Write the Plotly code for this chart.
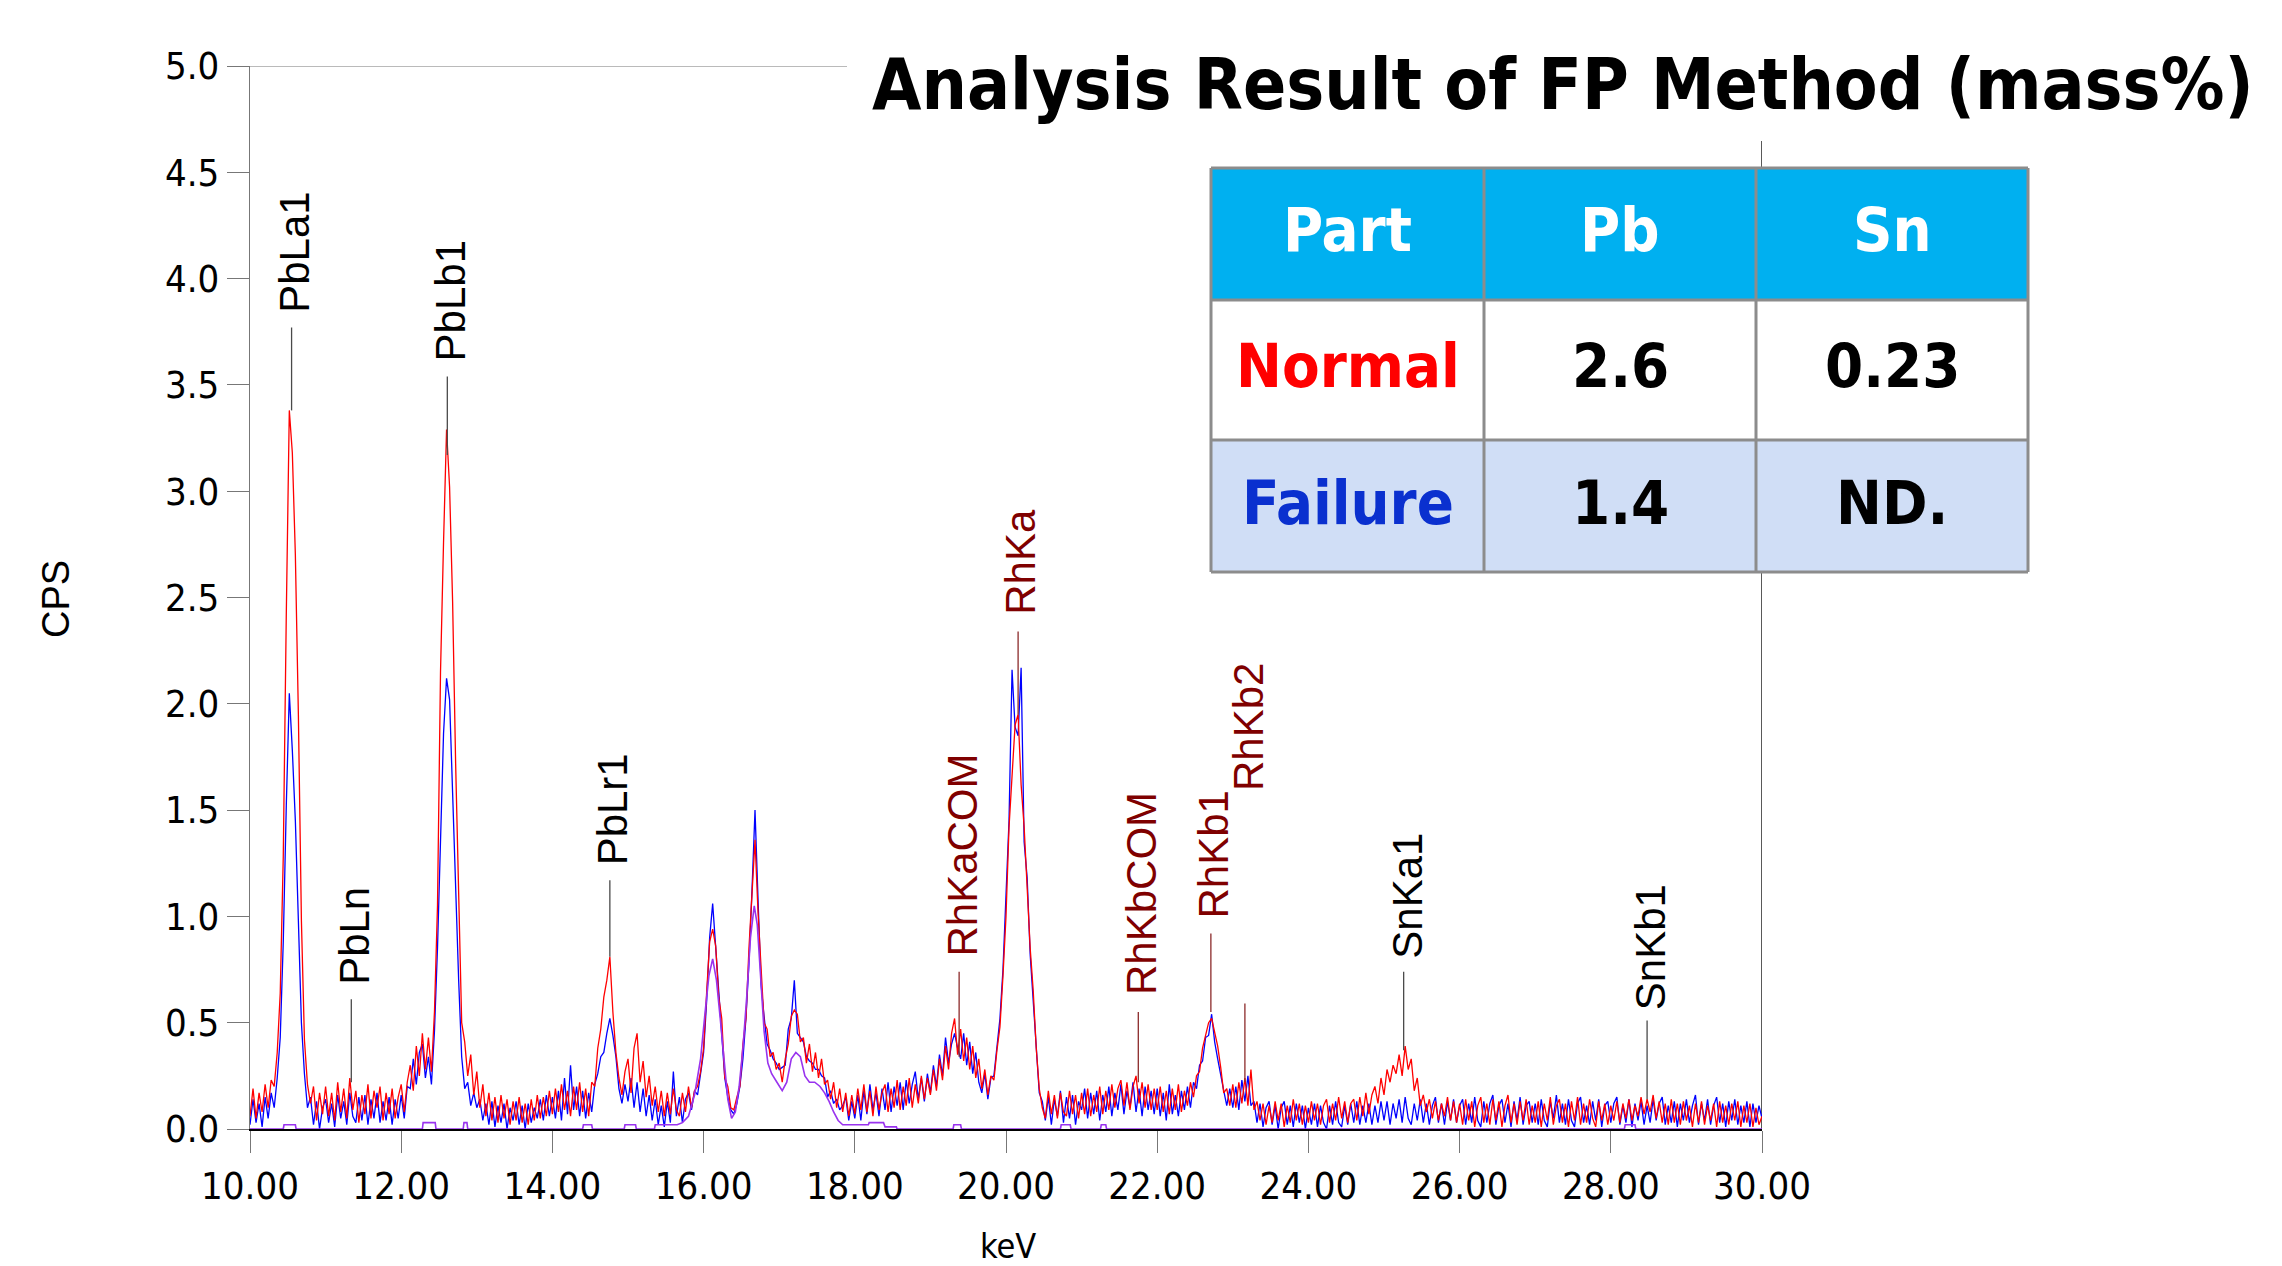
import plotly.graph_objects as go

# ---------------- data ----------------
row_start_kev = 10.0          # first channel of each row is row_start_kev + row index (1 keV per row)
channel_step_kev = 0.04

normal_rows = [
    [0.06, 0.19, 0.05, 0.17, 0.08, 0.21, 0.10, 0.23, 0.20, 0.36, 0.64, 1.28, 2.42, 3.38, 3.18, 2.70, 1.95, 0.98, 0.42, 0.21, 0.12, 0.20, 0.04, 0.17, 0.07],
    [0.20, 0.06, 0.17, 0.04, 0.22, 0.08, 0.19, 0.05, 0.24, 0.09, 0.18, 0.03, 0.16, 0.07, 0.21, 0.05, 0.18, 0.10, 0.20, 0.04, 0.17, 0.07, 0.19, 0.05, 0.15],
    [0.21, 0.08, 0.22, 0.30, 0.18, 0.39, 0.25, 0.45, 0.28, 0.43, 0.27, 0.55, 1.05, 2.15, 2.76, 3.29, 3.02, 2.48, 1.72, 1.08, 0.50, 0.41, 0.25, 0.35, 0.16],
    [0.27, 0.10, 0.21, 0.06, 0.17, 0.04, 0.15, 0.03, 0.16, 0.05, 0.14, 0.02, 0.13, 0.04, 0.15, 0.03, 0.12, 0.02, 0.14, 0.04, 0.16, 0.05, 0.15, 0.06, 0.18],
    [0.07, 0.19, 0.08, 0.21, 0.09, 0.18, 0.06, 0.20, 0.09, 0.22, 0.08, 0.19, 0.06, 0.22, 0.20, 0.38, 0.47, 0.62, 0.70, 0.81, 0.55, 0.36, 0.24, 0.16, 0.27],
    [0.33, 0.17, 0.38, 0.45, 0.22, 0.32, 0.15, 0.25, 0.11, 0.20, 0.08, 0.18, 0.06, 0.17, 0.07, 0.19, 0.09, 0.06, 0.17, 0.08, 0.20, 0.10, 0.18, 0.20, 0.27],
    [0.38, 0.64, 0.88, 0.94, 0.86, 0.62, 0.52, 0.24, 0.20, 0.10, 0.09, 0.15, 0.20, 0.40, 0.52, 0.85, 1.08, 1.36, 1.02, 0.75, 0.50, 0.47, 0.34, 0.36, 0.28],
    [0.31, 0.22, 0.33, 0.40, 0.53, 0.56, 0.54, 0.41, 0.43, 0.31, 0.40, 0.27, 0.36, 0.24, 0.33, 0.21, 0.23, 0.14, 0.22, 0.10, 0.19, 0.08, 0.17, 0.06, 0.16],
    [0.07, 0.19, 0.09, 0.21, 0.08, 0.18, 0.06, 0.20, 0.09, 0.17, 0.21, 0.08, 0.19, 0.10, 0.23, 0.09, 0.20, 0.11, 0.24, 0.10, 0.21, 0.12, 0.25, 0.14, 0.24],
    [0.16, 0.28, 0.18, 0.33, 0.23, 0.39, 0.28, 0.45, 0.52, 0.35, 0.47, 0.32, 0.43, 0.28, 0.39, 0.24, 0.33, 0.19, 0.28, 0.16, 0.25, 0.23, 0.37, 0.48, 0.72],
    [1.00, 1.42, 1.68, 1.90, 1.95, 1.62, 1.42, 1.15, 0.85, 0.65, 0.38, 0.19, 0.10, 0.05, 0.18, 0.07, 0.16, 0.05, 0.17, 0.08, 0.06, 0.18, 0.07, 0.16, 0.05],
    [0.17, 0.07, 0.19, 0.06, 0.16, 0.08, 0.20, 0.07, 0.18, 0.09, 0.21, 0.10, 0.19, 0.23, 0.11, 0.22, 0.09, 0.20, 0.25, 0.12, 0.22, 0.10, 0.21, 0.09, 0.19],
    [0.09, 0.20, 0.08, 0.18, 0.07, 0.19, 0.09, 0.21, 0.08, 0.18, 0.11, 0.22, 0.15, 0.25, 0.27, 0.38, 0.44, 0.50, 0.52, 0.46, 0.39, 0.29, 0.17, 0.19, 0.11],
    [0.21, 0.10, 0.22, 0.12, 0.24, 0.11, 0.28, 0.09, 0.13, 0.04, 0.12, 0.02, 0.11, 0.03, 0.13, 0.04, 0.12, 0.01, 0.11, 0.03, 0.14, 0.04, 0.12, 0.02, 0.11],
    [0.03, 0.13, 0.04, 0.12, 0.02, 0.11, 0.14, 0.03, 0.12, 0.04, 0.15, 0.05, 0.13, 0.03, 0.12, 0.14, 0.04, 0.15, 0.06, 0.17, 0.07, 0.16, 0.20, 0.12, 0.24],
    [0.16, 0.28, 0.22, 0.30, 0.26, 0.35, 0.25, 0.39, 0.28, 0.33, 0.18, 0.24, 0.11, 0.16, 0.08, 0.14, 0.05, 0.13, 0.04, 0.12, 0.06, 0.15, 0.04, 0.13, 0.03],
    [0.12, 0.02, 0.14, 0.04, 0.13, 0.01, 0.11, 0.15, 0.03, 0.12, 0.02, 0.14, 0.04, 0.13, 0.01, 0.11, 0.16, 0.03, 0.12, 0.02, 0.13, 0.04, 0.14, 0.02, 0.11],
    [0.03, 0.13, 0.01, 0.12, 0.04, 0.15, 0.02, 0.11, 0.14, 0.03, 0.12, 0.01, 0.13, 0.04, 0.15, 0.02, 0.12, 0.03, 0.14, 0.05, 0.01, 0.13, 0.04, 0.12, 0.02],
    [0.11, 0.04, 0.13, 0.03, 0.12, 0.05, 0.14, 0.04, 0.11, 0.06, 0.15, 0.07, 0.14, 0.08, 0.16, 0.05, 0.13, 0.03, 0.12, 0.02, 0.14, 0.03, 0.12, 0.02, 0.13],
    [0.04, 0.11, 0.01, 0.12, 0.03, 0.13, 0.02, 0.11, 0.04, 0.12, 0.01, 0.13, 0.03, 0.11, 0.02, 0.12, 0.04, 0.13, 0.01, 0.11, 0.03, 0.12, 0.01, 0.10, 0.02],
    [0.06],
]

failure_rows = [
    [0.02, 0.14, 0.03, 0.12, 0.01, 0.15, 0.05, 0.17, 0.10, 0.24, 0.43, 0.88, 1.52, 2.05, 1.78, 1.45, 0.98, 0.50, 0.26, 0.10, 0.15, 0.02, 0.13, 0.00, 0.10],
    [0.14, 0.03, 0.12, 0.01, 0.16, 0.05, 0.13, 0.02, 0.17, 0.06, 0.03, 0.15, 0.04, 0.16, 0.02, 0.14, 0.05, 0.17, 0.03, 0.13, 0.04, 0.15, 0.02, 0.14, 0.05],
    [0.16, 0.05, 0.20, 0.19, 0.33, 0.21, 0.36, 0.40, 0.24, 0.34, 0.21, 0.46, 0.85, 1.42, 1.86, 2.12, 2.02, 1.58, 1.12, 0.70, 0.34, 0.19, 0.22, 0.11, 0.17],
    [0.10, 0.14, 0.04, 0.12, 0.02, 0.13, 0.01, 0.11, 0.03, 0.12, 0.00, 0.10, 0.04, 0.13, 0.02, 0.11, 0.00, 0.12, 0.03, 0.10, 0.05, 0.14, 0.04, 0.16, 0.06],
    [0.15, 0.05, 0.18, 0.04, 0.24, 0.07, 0.30, 0.09, 0.20, 0.06, 0.18, 0.05, 0.17, 0.08, 0.21, 0.26, 0.34, 0.36, 0.45, 0.52, 0.44, 0.34, 0.19, 0.12, 0.21],
    [0.13, 0.24, 0.10, 0.22, 0.08, 0.19, 0.06, 0.16, 0.04, 0.14, 0.02, 0.11, 0.01, 0.13, 0.03, 0.27, 0.06, 0.15, 0.03, 0.14, 0.17, 0.09, 0.18, 0.16, 0.25],
    [0.36, 0.60, 0.90, 1.06, 0.85, 0.62, 0.44, 0.24, 0.15, 0.09, 0.07, 0.12, 0.20, 0.33, 0.52, 0.78, 1.12, 1.50, 1.08, 0.68, 0.53, 0.40, 0.37, 0.33, 0.31],
    [0.28, 0.29, 0.30, 0.47, 0.52, 0.70, 0.45, 0.43, 0.41, 0.34, 0.32, 0.31, 0.28, 0.28, 0.25, 0.24, 0.15, 0.18, 0.12, 0.14, 0.09, 0.11, 0.15, 0.04, 0.13],
    [0.05, 0.16, 0.04, 0.18, 0.07, 0.21, 0.09, 0.17, 0.06, 0.19, 0.09, 0.22, 0.08, 0.20, 0.11, 0.22, 0.09, 0.23, 0.12, 0.21, 0.27, 0.14, 0.24, 0.13, 0.26],
    [0.17, 0.30, 0.20, 0.35, 0.25, 0.43, 0.31, 0.40, 0.45, 0.38, 0.33, 0.45, 0.30, 0.41, 0.26, 0.36, 0.22, 0.17, 0.26, 0.14, 0.24, 0.25, 0.40, 0.52, 0.75],
    [1.08, 1.45, 2.16, 1.89, 1.85, 2.17, 1.35, 1.18, 0.82, 0.60, 0.35, 0.17, 0.13, 0.04, 0.15, 0.02, 0.14, 0.06, 0.18, 0.03, 0.15, 0.05, 0.16, 0.02, 0.13],
    [0.09, 0.19, 0.05, 0.17, 0.07, 0.18, 0.04, 0.16, 0.08, 0.20, 0.06, 0.17, 0.09, 0.21, 0.07, 0.18, 0.10, 0.22, 0.08, 0.19, 0.06, 0.20, 0.09, 0.18, 0.07],
    [0.19, 0.06, 0.17, 0.04, 0.21, 0.07, 0.16, 0.06, 0.18, 0.09, 0.20, 0.10, 0.22, 0.19, 0.30, 0.32, 0.43, 0.44, 0.54, 0.41, 0.33, 0.25, 0.18, 0.11, 0.19],
    [0.10, 0.20, 0.09, 0.23, 0.13, 0.25, 0.11, 0.13, 0.03, 0.12, 0.01, 0.10, 0.13, 0.02, 0.11, 0.00, 0.10, 0.13, 0.02, 0.11, 0.01, 0.12, 0.03, 0.11, 0.00],
    [0.10, 0.02, 0.12, 0.01, 0.11, 0.03, 0.00, 0.11, 0.02, 0.13, 0.03, 0.01, 0.11, 0.02, 0.12, 0.03, 0.13, 0.02, 0.11, 0.03, 0.12, 0.02, 0.11, 0.03, 0.13],
    [0.04, 0.13, 0.02, 0.12, 0.05, 0.14, 0.03, 0.15, 0.05, 0.02, 0.12, 0.04, 0.14, 0.03, 0.12, 0.02, 0.11, 0.15, 0.03, 0.12, 0.02, 0.13, 0.04, 0.14, 0.03],
    [0.11, 0.14, 0.02, 0.12, 0.03, 0.15, 0.04, 0.01, 0.13, 0.03, 0.12, 0.16, 0.02, 0.11, 0.14, 0.03, 0.12, 0.01, 0.13, 0.04, 0.15, 0.02, 0.11, 0.13, 0.03],
    [0.12, 0.02, 0.14, 0.04, 0.01, 0.13, 0.05, 0.16, 0.03, 0.12, 0.02, 0.14, 0.04, 0.01, 0.12, 0.15, 0.03, 0.11, 0.02, 0.13, 0.04, 0.14, 0.01, 0.11, 0.13],
    [0.03, 0.12, 0.15, 0.02, 0.11, 0.03, 0.14, 0.01, 0.12, 0.04, 0.13, 0.02, 0.11, 0.03, 0.14, 0.04, 0.12, 0.15, 0.02, 0.11, 0.03, 0.13, 0.01, 0.12, 0.04],
    [0.14, 0.03, 0.11, 0.16, 0.02, 0.12, 0.04, 0.14, 0.02, 0.11, 0.15, 0.03, 0.12, 0.01, 0.13, 0.04, 0.14, 0.02, 0.11, 0.03, 0.13, 0.01, 0.12, 0.03, 0.11],
    [0.05],
]

fit_energy = [10.00, 10.44, 10.45, 10.60, 10.61, 12.28, 12.29, 12.45, 12.46, 12.82, 12.83, 12.87, 12.88,
              14.40, 14.41, 14.52, 14.53, 14.95, 14.96, 15.10, 15.11, 15.35, 15.36, 15.65, 15.72, 15.80,
              15.88, 15.96, 16.02, 16.07, 16.12, 16.17, 16.22, 16.27, 16.32, 16.37, 16.42, 16.47, 16.52,
              16.57, 16.62, 16.67, 16.71, 16.75, 16.80, 16.85, 16.90, 16.97, 17.04, 17.10, 17.16, 17.22,
              17.28, 17.34, 17.40, 17.47, 17.54, 17.60, 17.66, 17.72, 17.78, 17.84, 18.18, 18.19, 18.38,
              18.40, 18.55, 18.56, 19.30, 19.31, 19.40, 19.41, 20.72, 20.73, 20.85, 20.86, 21.25, 21.26,
              21.32, 21.33, 28.18, 28.19, 28.32, 28.33, 30.00]
fit_cps = [0, 0, 0.02, 0.02, 0, 0, 0.03, 0.03, 0, 0, 0.03, 0.03, 0,
           0, 0.02, 0.02, 0, 0, 0.02, 0.02, 0, 0, 0.02, 0.02, 0.03, 0.06,
           0.16, 0.33, 0.55, 0.72, 0.80, 0.70, 0.52, 0.33, 0.14, 0.05, 0.08, 0.20, 0.38,
           0.62, 0.90, 1.05, 0.96, 0.74, 0.46, 0.31, 0.26, 0.22, 0.18, 0.22, 0.33, 0.36,
           0.34, 0.25, 0.22, 0.22, 0.20, 0.17, 0.13, 0.08, 0.04, 0.02, 0.02, 0.03, 0.03,
           0.01, 0.01, 0, 0, 0.02, 0.02, 0, 0, 0.02, 0.02, 0, 0, 0.02,
           0.02, 0, 0, 0.02, 0.02, 0, 0]

peak_names = ["PbLa1", "PbLn", "PbLb1", "PbLr1", "RhKaCOM", "RhKa", "RhKbCOM", "RhKb1", "RhKb2", "SnKa1", "SnKb1"]
peak_element = ["Pb", "Pb", "Pb", "Pb", "Rh", "Rh", "Rh", "Rh", "Rh", "Sn", "Sn"]
peak_energy = [10.55, 11.34, 12.61, 14.76, 19.38, 20.16, 21.75, 22.71, 23.16, 25.26, 28.48]
peak_line_top = [3.77, 0.61, 3.54, 1.17, 0.74, 2.34, 0.55, 0.92, 0.59, 0.74, 0.51]
peak_line_bottom = [3.38, 0.22, 3.17, 0.81, 0.34, 1.95, 0.22, 0.55, 0.22, 0.37, 0.14]
peak_label_base = [3.83, 0.67, 3.60, 1.23, 0.80, 2.41, 0.62, 0.98, 1.58, 0.79, 0.55]

x_tick_values = [10, 12, 14, 16, 18, 20, 22, 24, 26, 28, 30]
y_tick_values = [0.0, 0.5, 1.0, 1.5, 2.0, 2.5, 3.0, 3.5, 4.0, 4.5, 5.0]

table_header = ["Part", "Pb", "Sn"]
table_row_names = ["Normal", "Failure"]
table_pb = ["2.6", "1.4"]
table_sn = ["0.23", "ND."]

title_text = "Analysis Result of FP Method (mass%)"

# ---------------- styling ----------------
W, H = 2282, 1266
PL, PR, PT, PB_ = 242, 1754, 58, 1121   # plot area in pixels
NARROW = "Liberation Sans Narrow, Arial Narrow, DejaVu Sans Condensed, sans-serif"
ARIAL = "Liberation Sans, Arial, sans-serif"


def px(xp):
    return (xp - PL) / (PR - PL)


def py(yp):
    return (PB_ - yp) / (PB_ - PT)


def flatten(rows):
    xs, ys = [], []
    for k, row in enumerate(rows):
        for j, v in enumerate(row):
            xs.append(round(row_start_kev + k + j * channel_step_kev, 2))
            ys.append(v)
    return xs, ys


xn, yn = flatten(normal_rows)
xf, yf = flatten(failure_rows)

fig = go.Figure()
fig.add_trace(go.Scatter(x=xf, y=yf, mode="lines", line=dict(color="#0000FF", width=1.3),
                         name="Failure", hoverinfo="skip"))
fig.add_trace(go.Scatter(x=xn, y=yn, mode="lines", line=dict(color="#FF0000", width=1.3),
                         name="Normal", hoverinfo="skip"))
fig.add_trace(go.Scatter(x=fit_energy, y=fit_cps, mode="lines", line=dict(color="#9933EE", width=1.6),
                         name="Fit", hoverinfo="skip"))

# peak marker lines
for elem_group, col in (("Pb", "#4A4A4A"), ("Sn", "#4A4A4A"), ("Rh", "#8B2A2A")):
    lx, ly = [], []
    for e, el, t, b in zip(peak_energy, peak_element, peak_line_top, peak_line_bottom):
        if el == elem_group:
            lx += [e, e, None]
            ly += [b, t, None]
    fig.add_trace(go.Scatter(x=lx, y=ly, mode="lines", line=dict(color=col, width=1.3),
                             hoverinfo="skip", showlegend=False))

annotations = []
for name, el, e, base in zip(peak_names, peak_element, peak_energy, peak_label_base):
    annotations.append(dict(
        x=e, y=base, xref="x", yref="y", text=name, showarrow=False, textangle=-90,
        xanchor="center", yanchor="bottom", xshift=3,
        font=dict(family=ARIAL, size=42, color="#7F0000" if el == "Rh" else "#000000")))

# axis titles
annotations.append(dict(x=px(48), y=py(591), xref="paper", yref="paper", text="CPS", showarrow=False,
                        textangle=-90, xanchor="center", yanchor="middle",
                        font=dict(family=ARIAL, size=38, color="#000000")))
annotations.append(dict(x=px(1000), y=py(1238), xref="paper", yref="paper", text="keV", showarrow=False,
                        xanchor="center", yanchor="middle",
                        font=dict(family=NARROW, size=34, color="#000000")))

# title
annotations.append(dict(x=px(1555), y=py(76), xref="paper", yref="paper", text="<b>" + title_text + "</b>",
                        showarrow=False, xanchor="center", yanchor="middle",
                        font=dict(family=NARROW, size=71, color="#000000")))

shapes = []
# frame: top (grey) and right (black) edges
shapes.append(dict(type="line", xref="x", yref="y", x0=10, x1=30, y0=5, y1=5,
                   line=dict(color="#777777", width=1.2), layer="below"))
shapes.append(dict(type="line", xref="x", yref="y", x0=30, x1=30, y0=0, y1=5,
                   line=dict(color="#222222", width=1.5), layer="below"))
# white box behind the title hides the frame's top-right corner
shapes.append(dict(type="rect", xref="paper", yref="paper", x0=px(839), x1=px(W), y0=py(0), y1=py(133),
                   fillcolor="#FFFFFF", line=dict(width=0), layer="above"))
# faint cream strip at the right edge
shapes.append(dict(type="rect", xref="paper", yref="paper", x0=px(2270), x1=px(W), y0=py(133), y1=py(H),
                   fillcolor="#FDF7EC", line=dict(width=0), layer="above"))

# results table
col_edges = [1203, 1476, 1748, 2020]
row_edges = [160, 292, 432, 564]
row_fills = ["#00B0F0", "#FFFFFF", "#D0DEF6"]
for r in range(3):
    shapes.append(dict(type="rect", xref="paper", yref="paper",
                       x0=px(col_edges[0]), x1=px(col_edges[-1]),
                       y0=py(row_edges[r + 1]), y1=py(row_edges[r]),
                       fillcolor=row_fills[r], line=dict(width=0), layer="above"))
grid_col = "#8C8C8C"
for yy in row_edges:
    shapes.append(dict(type="line", xref="paper", yref="paper", x0=px(col_edges[0]), x1=px(col_edges[-1]),
                       y0=py(yy), y1=py(yy), line=dict(color=grid_col, width=3), layer="above"))
for xx in col_edges:
    shapes.append(dict(type="line", xref="paper", yref="paper", x0=px(xx), x1=px(xx),
                       y0=py(row_edges[0]), y1=py(row_edges[-1]), line=dict(color=grid_col, width=3),
                       layer="above"))

cell_text = [table_header,
             [table_row_names[0], table_pb[0], table_sn[0]],
             [table_row_names[1], table_pb[1], table_sn[1]]]
cell_colors = [["#FFFFFF", "#FFFFFF", "#FFFFFF"],
               ["#FF0000", "#000000", "#000000"],
               ["#0A30CF", "#000000", "#000000"]]
for r in range(3):
    cy = (row_edges[r] + row_edges[r + 1]) / 2 - 4
    for c in range(3):
        cx = (col_edges[c] + col_edges[c + 1]) / 2
        annotations.append(dict(x=px(cx), y=py(cy), xref="paper", yref="paper",
                                text="<b>" + cell_text[r][c] + "</b>", showarrow=False,
                                xanchor="center", yanchor="middle",
                                font=dict(family=NARROW, size=61, color=cell_colors[r][c])))

fig.update_layout(
    width=W, height=H, autosize=False,
    margin=dict(l=PL, r=W - PR, t=PT, b=H - PB_, pad=0, autoexpand=False),
    paper_bgcolor="#FFFFFF", plot_bgcolor="#FFFFFF",
    showlegend=False,
    shapes=shapes, annotations=annotations,
    xaxis=dict(range=[10, 30], tickvals=x_tick_values, tickformat=".2f",
               ticks="outside", ticklen=22, tickcolor="#777777", tickwidth=1.3,
               showline=True, linecolor="#000000", linewidth=2, showgrid=False, zeroline=False,
               tickfont=dict(family=NARROW, size=38, color="#000000")),
    yaxis=dict(range=[0, 5], tickvals=y_tick_values, tickformat=".1f",
               ticks="outside", ticklen=22, tickcolor="#777777", tickwidth=1.3,
               showline=True, linecolor="#777777", linewidth=1.2, showgrid=False, zeroline=False,
               tickfont=dict(family=NARROW, size=38, color="#000000")),
)

fig.write_html("out.html")
